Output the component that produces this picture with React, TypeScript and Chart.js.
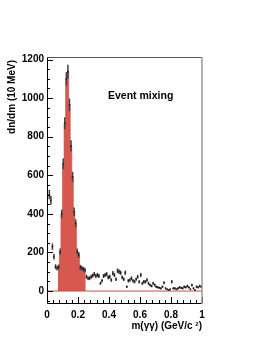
import { useEffect, useRef } from "react";
import { Chart, registerables } from "chart.js";

Chart.register(...registerables);

// ---- data (10 MeV bins from 0 to 1 GeV/c^2) ----
const binWidth = 0.01;
const counts: (number | null)[] = [
  null, 500, 470, 230, 178, 126, 119, 125, 204, 400,
  660, 870, 1100, 1137, 965, 752, 592, 411, 351, 204,
  187, 123, 118, 113, 108, 74, 66, 67, 74, 80,
  88, 78, 83, 78, 40, 53, 78, 83, 88, 71,
  74, 57, 92, 83, 61, 105, 100, 95, 71, 61,
  95, 22, 53, 57, 66, 53, 48, 61, 74, 48,
  83, 40, 48, 48, 57, 40, 31, 26, 40, 31,
  22, 19, 17, 14, 22, 43, 14, 9, 5, 9,
  48, 14, 14, 9, 14, 19, 17, 14, 22, 19,
  26, 19, 9, 31, 14, 5, 22, 19, 26, 22,
];
const signalFirstBin = 7;
const signalLastBin = 24;

const xTicks = [0, 0.2, 0.4, 0.6, 0.8, 1];
const yTicks = [0, 200, 400, 600, 800, 1000, 1200];
const xMinorPerMajor = 5;
const yMinorStep = 50;
const xMin = 0;
const xMax = 1;
const yMin = -62;
const yMax = 1213;

const labelText = "Event mixing";
const xTitle = "m(γγ) (GeV/c ²)";
const yTitle = "dn/dm (10 MeV)";

const FONT = "'Liberation Sans', Arial, Helvetica, sans-serif";

export default function App() {
  const ref = useRef<HTMLCanvasElement | null>(null);

  useEffect(() => {
    if (!ref.current) return;

    const points: { x: number; y: number }[] = [];
    const errors: { x: number; y: [number, number] }[] = [];
    counts.forEach((v, i) => {
      if (v == null) return;
      const x = (i + 0.5) * binWidth;
      const e = Math.sqrt(v);
      points.push({ x, y: v });
      errors.push({ x, y: [v - e, v + e] });
    });

    const signal: { x: number; y: number }[] = [];
    for (let i = signalFirstBin; i <= signalLastBin; i++) {
      signal.push({ x: i * binWidth, y: counts[i] as number });
    }
    signal.push({ x: (signalLastBin + 1) * binWidth, y: counts[signalLastBin] as number });

    const decor = {
      id: "decor",
      afterDatasetsDraw(chart: any) {
        const { ctx, chartArea: a, scales } = chart;
        const x = scales.x;
        const y = scales.y;
        ctx.save();
        ctx.lineWidth = 1;
        ctx.strokeStyle = "#000";
        // y ticks (inside)
        for (let v = -50; v <= 1200; v += yMinorStep) {
          const py = Math.round(y.getPixelForValue(v)) + 0.5;
          const len = yTicks.includes(v) ? 6 : 3;
          ctx.beginPath();
          ctx.moveTo(a.left, py);
          ctx.lineTo(a.left + len, py);
          ctx.stroke();
        }
        // x ticks (inside)
        const nMinor = (xTicks.length - 1) * xMinorPerMajor;
        for (let k = 0; k <= nMinor; k++) {
          const v = xTicks[0] + (k / nMinor) * (xTicks[xTicks.length - 1] - xTicks[0]);
          const px = Math.round(x.getPixelForValue(v)) + 0.5;
          const len = k % xMinorPerMajor === 0 ? 6 : 3;
          ctx.beginPath();
          ctx.moveTo(px, a.bottom);
          ctx.lineTo(px, a.bottom - len);
          ctx.stroke();
        }
        // frame
        ctx.strokeStyle = "#000";
        ctx.beginPath();
        ctx.moveTo(a.left + 0.5, a.top);
        ctx.lineTo(a.left + 0.5, a.bottom + 0.5);
        ctx.lineTo(a.right, a.bottom + 0.5);
        ctx.stroke();
        ctx.strokeStyle = "#555";
        ctx.beginPath();
        ctx.moveTo(a.left, a.top + 0.5);
        ctx.lineTo(a.right, a.top + 0.5);
        ctx.stroke();
        ctx.strokeStyle = "#999";
        ctx.lineWidth = 1.5;
        ctx.beginPath();
        ctx.moveTo(a.right, a.top);
        ctx.lineTo(a.right, a.bottom + 1);
        ctx.stroke();
        // label
        ctx.fillStyle = "#000";
        ctx.font = `bold 10.5px ${FONT}`;
        ctx.textAlign = "left";
        ctx.textBaseline = "middle";
        ctx.fillText(labelText, 108, 96);
        // y title
        ctx.save();
        ctx.translate(12.5, a.top + 3);
        ctx.rotate(-Math.PI / 2);
        ctx.font = `bold 10px ${FONT}`;
        ctx.textAlign = "right";
        ctx.textBaseline = "middle";
        ctx.fillText(yTitle, 0, 0);
        ctx.restore();
        ctx.restore();
      },
    };

    const chart = new Chart(ref.current, {
      type: "scatter",
      data: {
        datasets: [
          {
            type: "scatter",
            data: points,
            pointRadius: 0.8,
            pointBackgroundColor: "#111",
            pointBorderWidth: 0,
            order: 0,
          } as any,
          {
            type: "bar",
            data: errors,
            backgroundColor: "#444",
            borderWidth: 0,
            barThickness: 0.9,
            grouped: false,
            order: 1,
          } as any,
          {
            type: "line",
            data: [
              { x: xMin, y: 0 },
              { x: xMax, y: 0 },
            ],
            borderColor: "rgb(205,80,70)",
            borderWidth: 1,
            pointRadius: 0,
            fill: false,
            order: 2,
          } as any,
          {
            type: "line",
            data: signal,
            stepped: "before",
            borderColor: "rgb(200,75,65)",
            borderWidth: 0.6,
            backgroundColor: "rgb(215,88,78)",
            fill: "origin",
            pointRadius: 0,
            order: 3,
          } as any,
        ],
      },
      options: {
        responsive: false,
        animation: false,
        events: [],
        layout: { padding: { left: 0, top: 57, right: 71, bottom: 0 } },
        plugins: {
          legend: { display: false },
          tooltip: { enabled: false },
          title: { display: false },
        },
        scales: {
          x: {
            type: "linear",
            min: xMin,
            max: xMax,
            offset: false,
            grid: { display: false, drawTicks: false },
            border: { display: false },
            afterBuildTicks: (s: any) => {
              s.ticks = xTicks.map((value) => ({ value }));
            },
            afterFit: (s: any) => {
              s.height = 35;
            },
            ticks: {
              color: "#000",
              padding: 6,
              maxRotation: 0,
              autoSkip: false,
              font: { family: FONT, weight: "bold", size: 10 },
              callback: (v: any) => String(v),
            },
            title: {
              display: true,
              text: xTitle,
              align: "end",
              color: "#000",
              padding: { top: 0, bottom: 6 },
              font: { family: FONT, weight: "bold", size: 10 },
            },
          },
          y: {
            type: "linear",
            min: yMin,
            max: yMax,
            grid: { display: false, drawTicks: false },
            border: { display: false },
            afterBuildTicks: (s: any) => {
              s.ticks = yTicks.map((value) => ({ value }));
            },
            afterFit: (s: any) => {
              s.width = 47;
            },
            ticks: {
              color: "#000",
              padding: 3,
              autoSkip: false,
              font: { family: FONT, weight: "bold", size: 10 },
              callback: (v: any) => String(v),
            },
            title: { display: false },
          },
        },
      } as any,
      plugins: [decor],
    });

    return () => chart.destroy();
  }, []);

  return (
    <div style={{ position: "fixed", left: 0, top: 0, width: 273, height: 338, background: "#fff" }}>
      <canvas ref={ref} width={273} height={338} style={{ width: 273, height: 338, display: "block" }} />
    </div>
  );
}
